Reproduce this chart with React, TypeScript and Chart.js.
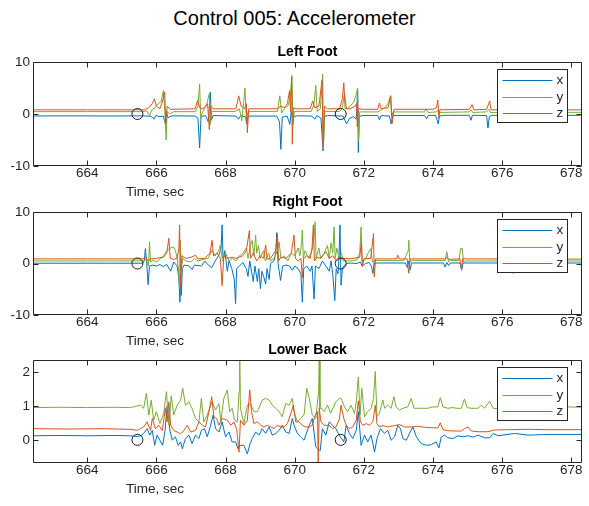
import { useEffect, useRef } from 'react';
import { Chart, registerables } from 'chart.js';

Chart.register(...registerables);

type Pt = [number, number];

const FIG_TITLE = 'Control 005: Accelerometer';
const X_LABEL = 'Time, sec';
const SERIES_NAMES = ['x', 'y', 'z'];
const SERIES_COLORS = ['#0072BD', '#77AC30', '#D95319'];
const AX = '#262626';
const FONT = '"Liberation Sans", Arial, Helvetica, sans-serif';

const X_MIN = 662.43;
const X_MAX = 678.31;
const xTicks = [664, 666, 668, 670, 672, 674, 676, 678];
const footYTicks = [-10, 0, 10];
const backYTicks = [0, 1, 2];
const eventTimes = [665.45, 671.33];
const eventValues = [0, 0];

// ---------- Left Foot ----------
const leftFootX: Pt[] = [
  [662.43, -0.38], [663.5, -0.36], [664.6, -0.38], [665.6, -0.36], [665.85, -0.45], [665.93, -1.0], [665.98, -0.3],
  [666.1, -0.5], [666.2, -0.4], [666.26, -1.9], [666.29, 0.5], [666.33, -0.7], [666.45, -0.35], [667.12, -0.4],
  [667.2, -0.8], [667.25, -6.5], [667.29, -0.5], [667.42, -0.3], [667.5, -1.5], [667.56, 4.2], [667.59, -1.2],
  [667.64, -0.3], [668.3, -0.4], [668.37, -1.0], [668.44, -0.3], [668.58, -0.6], [668.61, -1.9], [668.65, -0.4],
  [669.48, -0.4], [669.56, -1.5], [669.6, -6.8], [669.64, -0.6], [669.78, -0.4], [669.86, -2.0], [669.9, 0.5],
  [669.94, -0.6], [670.05, -0.35], [670.5, -0.4], [670.58, -1.0], [670.64, -0.3], [670.76, -0.8], [670.82, -7.1],
  [670.86, -0.5], [670.95, -0.3], [671.4, -0.4], [671.5, -1.9], [671.58, -0.9], [671.7, -0.5], [671.78, -1.0],
  [671.82, 4.6], [671.84, -7.4], [671.87, -0.5], [671.95, -0.3], [672.4, -0.3], [672.45, -1.1], [672.5, -0.3],
  [672.74, -0.4], [672.79, -1.9], [672.84, -0.3], [673.76, -0.3], [673.82, -0.9], [673.87, -0.25], [674.08, -0.3],
  [674.15, -1.9], [674.19, -0.4], [674.3, -0.25], [675.05, -0.25], [675.1, -1.2], [675.14, -0.25], [675.55, -0.3],
  [675.59, -2.7], [675.63, -0.5], [675.7, -0.25], [678.31, -0.25],
];
const leftFootY: Pt[] = [
  [662.43, 0.45], [664.0, 0.46], [665.6, 0.45], [665.72, 0.6], [665.8, -0.3], [665.88, 0.9], [665.96, 1.2],
  [666.05, 2.0], [666.14, 2.4], [666.2, 4.5], [666.24, 1.0], [666.28, -5.0], [666.31, 0.5], [666.38, 0.0],
  [666.5, 0.45], [667.12, 0.45], [667.2, 1.5], [667.25, 5.8], [667.28, -0.8], [667.34, 0.5], [667.44, 1.5],
  [667.53, 3.9], [667.56, -2.0], [667.6, 0.5], [668.28, 0.5], [668.4, 1.0], [668.47, -1.3], [668.52, 2.0],
  [668.56, 5.0], [668.6, -1.0], [668.65, 0.5], [669.5, 0.5], [669.57, 3.5], [669.62, 0.2], [669.7, 1.0],
  [669.8, 1.5], [669.87, 3.0], [669.92, 7.4], [669.95, -2.0], [669.99, 0.5], [670.48, 0.5], [670.56, 2.0],
  [670.61, 5.5], [670.65, 0.5], [670.74, 1.0], [670.81, 7.7], [670.83, -6.5], [670.87, 0.5], [671.3, 0.5],
  [671.38, 1.2], [671.44, 4.0], [671.5, 1.0], [671.6, 1.5], [671.7, 2.2], [671.77, 3.5], [671.82, 5.0],
  [671.845, -5.1], [671.88, 0.4], [672.0, 0.4], [672.4, 0.4], [672.5, 0.8], [672.6, 1.2], [672.7, 2.0],
  [672.77, 3.5], [672.8, -0.5], [672.85, 0.4], [673.75, 0.4], [673.8, 1.0], [673.86, 0.3], [674.1, 0.4],
  [674.15, 0.8], [674.2, 0.3], [675.05, 0.4], [675.1, 0.8], [675.15, 0.3], [675.55, 0.4], [675.62, 0.9],
  [675.66, 0.3], [678.31, 0.32],
];
const leftFootZ: Pt[] = [
  [662.43, 0.8], [664.0, 0.8], [665.65, 0.8], [665.78, 1.2], [665.88, 2.0], [665.94, 2.9], [666.0, 1.5],
  [666.1, 1.0], [666.18, 2.5], [666.24, 4.2], [666.27, -1.9], [666.31, 1.5], [666.4, 0.9], [667.12, 1.0],
  [667.19, 2.6], [667.25, 1.2], [667.35, 1.0], [667.48, 2.0], [667.53, -3.0], [667.57, 1.5], [667.64, 1.0],
  [668.3, 1.0], [668.38, 3.5], [668.45, 1.5], [668.55, 1.0], [668.6, 2.0], [668.63, -3.6], [668.67, 1.0],
  [669.5, 1.0], [669.6, 1.5], [669.7, 1.2], [669.79, 2.0], [669.85, 4.5], [669.88, 0.5], [669.91, 7.1],
  [669.93, -5.8], [669.96, 1.2], [670.05, 1.0], [670.45, 1.0], [670.52, 2.5], [670.58, 1.2], [670.7, 1.5],
  [670.79, 6.5], [670.82, -6.2], [670.86, 1.5], [670.95, 1.0], [671.3, 1.0], [671.38, 3.0], [671.42, 6.0],
  [671.46, 1.0], [671.6, 1.0], [671.75, 1.5], [671.79, 2.0], [671.81, -2.5], [671.84, 1.0], [672.0, 0.9],
  [672.4, 0.9], [672.45, 2.1], [672.5, 1.0], [672.7, 1.2], [672.78, 3.5], [672.82, -1.8], [672.87, 0.9],
  [673.75, 0.9], [674.0, 0.9], [674.1, 1.2], [674.14, 2.7], [674.17, -0.8], [674.2, 0.8], [675.05, 0.9],
  [675.13, 1.8], [675.18, 0.8], [675.55, 0.9], [675.64, 2.5], [675.68, 0.8], [678.31, 0.8],
];

// ---------- Right Foot ----------
const rightFootX: Pt[] = [
  [662.43, 0.05], [664.0, 0.06], [665.6, 0.05], [665.65, 0.5], [665.68, 2.9], [665.72, 0.0], [665.76, -4.1],
  [665.8, -0.5], [665.9, -0.3], [666.0, -0.5], [666.1, -0.2], [666.2, -0.6], [666.3, -0.2], [666.41, -1.5],
  [666.5, 0.3], [666.6, -0.5], [666.65, -3.0], [666.68, -7.5], [666.7, -2.0], [666.72, -6.2], [666.75, -1.0],
  [666.8, -0.3], [666.95, -0.5], [667.03, -1.2], [667.1, -0.3], [667.3, -0.5], [667.4, 0.5], [667.5, -0.3],
  [667.6, -0.8], [667.7, 0.5], [667.8, 1.5], [667.87, 3.0], [667.9, 7.5], [667.93, 0.5], [667.98, 2.5],
  [668.05, -1.5], [668.1, 0.5], [668.18, -1.0], [668.25, -3.0], [668.29, -7.8], [668.32, -1.0], [668.4, -0.5],
  [668.5, 0.2], [668.6, -1.0], [668.65, -2.5], [668.7, 0.5], [668.75, -1.5], [668.8, -3.5], [668.85, -0.5],
  [668.92, -3.5], [668.96, -1.0], [669.01, -4.9], [669.05, -1.5], [669.1, -2.5], [669.16, -4.0], [669.2, -1.0],
  [669.26, -3.1], [669.3, 0.0], [669.4, 0.5], [669.45, 2.0], [669.48, 6.0], [669.52, 0.0], [669.59, -3.3],
  [669.65, -0.5], [669.75, -0.3], [669.85, -0.5], [669.93, -1.3], [670.0, -0.5], [670.1, -1.0], [670.18, -2.0],
  [670.22, -7.5], [670.26, -1.0], [670.35, -0.5], [670.45, -1.5], [670.5, -0.5], [670.56, -6.9], [670.6, -0.5],
  [670.7, -1.0], [670.8, 0.5], [670.9, -0.5], [671.0, -1.5], [671.05, 0.5], [671.1, -2.0], [671.16, -7.2],
  [671.2, -1.0], [671.25, -2.0], [671.28, 1.0], [671.31, 7.5], [671.34, -4.2], [671.38, -1.0], [671.42, -0.5],
  [671.5, 0.0], [671.6, 0.1], [671.8, 0.0], [671.9, 0.3], [671.95, -0.5], [672.05, 0.0], [672.15, 0.2],
  [672.22, -0.5], [672.26, -1.9], [672.3, 0.0], [672.4, 0.1], [673.2, 0.1], [673.26, -0.8], [673.3, 0.5],
  [673.34, -1.2], [673.38, 0.1], [674.3, 0.1], [674.35, -0.7], [674.4, 0.2], [674.45, -0.4], [674.5, 0.1],
  [674.78, 0.1], [674.83, -1.3], [674.87, 0.1], [676.28, 0.1], [676.32, -1.9], [676.36, 0.1], [678.31, 0.1],
];
const rightFootY: Pt[] = [
  [662.43, 0.5], [664.0, 0.5], [665.6, 0.5], [665.7, 0.8], [665.77, -0.5], [665.8, 4.2], [665.83, 0.3],
  [665.9, 0.6], [666.0, 0.3], [666.1, 0.8], [666.2, 1.5], [666.3, 2.5], [666.4, 3.0], [666.5, 3.2], [666.55, 2.5],
  [666.6, 1.0], [666.65, -2.0], [666.67, -4.9], [666.69, 4.5], [666.72, -1.0], [666.76, 1.0], [666.85, 0.5],
  [667.0, 0.3], [667.1, 1.0], [667.2, 0.5], [667.35, 0.8], [667.5, 1.0], [667.6, 2.5], [667.7, 1.5], [667.8, 2.5],
  [667.85, 3.6], [667.9, 1.0], [668.0, 2.0], [668.1, 0.5], [668.2, 1.0], [668.3, 0.5], [668.4, 1.5], [668.5, 2.0],
  [668.6, 3.0], [668.65, 1.0], [668.72, 3.5], [668.77, 4.5], [668.82, 1.5], [668.87, 5.5], [668.9, 2.0],
  [668.95, 3.5], [669.0, 1.0], [669.1, 2.5], [669.15, 0.5], [669.25, 2.0], [669.3, 0.5], [669.4, 1.0],
  [669.5, 2.5], [669.55, 4.2], [669.6, 1.0], [669.7, 1.5], [669.8, 0.5], [669.9, 2.0], [670.0, 1.5], [670.1, 3.0],
  [670.15, 1.5], [670.2, 4.0], [670.22, 6.5], [670.25, 1.0], [670.3, 2.5], [670.4, 1.0], [670.5, 2.5],
  [670.56, 5.0], [670.59, 8.1], [670.62, 1.0], [670.7, 3.0], [670.75, 1.0], [670.85, 2.0], [670.95, 3.5],
  [671.0, 1.0], [671.05, 4.0], [671.1, 2.0], [671.14, 7.1], [671.17, 1.0], [671.22, 3.0], [671.28, 1.0],
  [671.35, 2.0], [671.4, 0.5], [671.6, 0.5], [671.8, 0.7], [671.88, 2.0], [671.92, 7.1], [671.95, 0.3],
  [672.05, 0.8], [672.12, 2.0], [672.2, 2.9], [672.25, 0.3], [672.35, 0.6], [673.15, 0.6], [673.22, 1.5],
  [673.28, 2.5], [673.3, 4.5], [673.33, 0.3], [673.4, 0.6], [674.35, 0.6], [674.4, 2.3], [674.45, 0.3],
  [674.5, 0.6], [674.75, 0.6], [674.8, 2.9], [674.85, 2.9], [674.88, 0.3], [674.95, 0.5], [678.31, 0.5],
];
const rightFootZ: Pt[] = [
  [662.43, 0.9], [664.0, 0.9], [665.6, 0.9], [665.7, 1.2], [665.75, 0.5], [665.85, 0.9], [666.0, 1.0],
  [666.2, 1.2], [666.3, 2.0], [666.36, 4.9], [666.4, 1.0], [666.5, 0.8], [666.6, 1.0], [666.65, 3.0],
  [666.67, 7.5], [666.7, -4.2], [666.74, 1.5], [666.85, 1.0], [667.0, 1.2], [667.13, 1.6], [667.2, 0.9],
  [667.4, 1.0], [667.55, 2.0], [667.61, 4.5], [667.65, 1.5], [667.75, 2.0], [667.85, 1.0], [667.9, -4.3],
  [667.95, 1.5], [668.05, 1.0], [668.2, 1.2], [668.3, 1.0], [668.5, 1.5], [668.6, 2.5], [668.69, 6.4],
  [668.72, 1.0], [668.8, 2.0], [668.9, 0.5], [669.0, 1.5], [669.1, 1.0], [669.16, 3.6], [669.2, 0.8],
  [669.3, 1.0], [669.45, 2.5], [669.5, 5.8], [669.53, 0.5], [669.6, 1.2], [669.75, 1.0], [669.9, 2.0],
  [669.98, 5.5], [670.02, 1.0], [670.1, 0.5], [670.18, 1.0], [670.22, -2.8], [670.26, 1.0], [670.35, 1.5],
  [670.45, 1.0], [670.5, 3.0], [670.54, 7.5], [670.57, 0.5], [670.65, 1.2], [670.75, 1.0], [670.9, 2.3],
  [671.0, 1.0], [671.1, 1.5], [671.2, 0.5], [671.3, 1.0], [671.4, 1.0], [671.6, 0.9], [671.88, 1.2],
  [671.93, 4.2], [671.96, -0.6], [672.0, 0.9], [672.2, 1.0], [672.28, 5.8], [672.3, -2.6], [672.34, 0.9],
  [672.95, 0.9], [672.98, 1.6], [673.02, 0.9], [673.25, 0.9], [673.3, -1.9], [673.34, 0.9], [674.35, 0.9],
  [674.4, 1.3], [674.45, 0.8], [674.78, 0.9], [674.82, -1.0], [674.86, 0.9], [678.31, 0.85],
];

// ---------- Lower Back ----------
const lowBackX: Pt[] = [
  [662.43, 0.12], [663.2, 0.13], [664.0, 0.12], [664.8, 0.13], [665.25, 0.12], [665.45, 0.1], [665.54, 0.12],
  [665.63, 0.19], [665.73, 0.33], [665.81, 0.14], [665.88, 0.28], [665.95, -0.16], [666.02, 0.14], [666.1, -0.01],
  [666.18, -0.16], [666.25, 0.28], [666.31, 1.0], [666.39, 0.28], [666.46, -0.01], [666.55, 0.09], [666.63, -0.16],
  [666.7, -0.06], [666.75, -0.26], [666.84, 0.04], [666.94, 0.14], [667.03, -0.11], [667.13, 0.14], [667.23, 0.04],
  [667.3, 0.28], [667.39, 0.33], [667.47, 0.09], [667.57, 0.43], [667.64, 0.73], [667.71, 0.33], [667.81, 0.23],
  [667.9, 0.53], [668.0, 0.09], [668.1, 0.23], [668.19, -0.06], [668.29, -0.06], [668.36, -0.26], [668.43, -0.16],
  [668.53, -0.16], [668.63, -0.41], [668.71, -0.11], [668.77, 0.04], [668.87, 0.23], [668.97, 0.14], [669.06, 0.33],
  [669.16, 0.19], [669.26, 0.38], [669.35, 0.14], [669.45, 0.19], [669.55, 0.28], [669.64, 0.43], [669.74, 0.23],
  [669.84, 0.19], [669.93, 0.63], [669.98, 0.43], [670.08, 0.19], [670.17, 0.09], [670.27, -0.01], [670.35, 0.23],
  [670.42, 0.43], [670.51, 0.63], [670.61, -0.21], [670.66, -0.26], [670.74, -0.31], [670.8, 0.33], [670.9, 0.14],
  [671.0, 0.53], [671.09, 0.43], [671.19, 0.33], [671.29, 0.13], [671.42, -0.06], [671.49, 0.43], [671.58, 0.19],
  [671.68, 0.04], [671.78, 0.28], [671.84, 0.83], [671.92, -0.16], [672.02, 0.14], [672.11, -0.06], [672.21, 0.14],
  [672.31, -0.36], [672.38, 0.04], [672.48, 0.33], [672.6, 0.19], [672.69, 0.28], [672.79, -0.01], [672.89, 0.09],
  [672.98, 0.43], [673.06, 0.33], [673.13, 0.04], [673.23, -0.01], [673.32, 0.19], [673.42, 0.38], [673.52, 0.09],
  [673.66, -0.11], [673.81, -0.16], [673.95, -0.14], [674.09, -0.06], [674.17, -0.24], [674.24, 0.09], [674.34, 0.14],
  [674.43, 0.06], [674.58, 0.04], [674.72, 0.12], [674.87, 0.09], [675.01, 0.12], [675.16, 0.08], [675.3, 0.14],
  [675.5, 0.06], [675.64, 0.06], [675.74, 0.19], [675.88, 0.12], [676.36, 0.19], [676.75, 0.14], [677.33, 0.16],
  [678.31, 0.16],
];
const lowBackY: Pt[] = [
  [662.43, 0.95], [663.2, 0.96], [664.0, 0.95], [664.8, 0.96], [665.25, 0.95], [665.54, 1.02], [665.63, 0.93],
  [665.71, 1.37], [665.78, 0.73], [665.85, 1.17], [665.92, 0.58], [666.0, 0.83], [666.1, 0.48], [666.21, 0.78],
  [666.29, 1.42], [666.36, 0.43], [666.43, 1.3], [666.5, 0.73], [666.6, 1.02], [666.7, 1.17], [666.76, 1.52],
  [666.84, 1.02], [666.94, 1.12], [667.03, 0.93], [667.13, 0.63], [667.23, 0.53], [667.3, 1.22], [667.37, 0.53],
  [667.47, 0.73], [667.61, 1.12], [667.71, 0.88], [667.81, 1.07], [667.86, 0.53], [667.95, 1.22], [668.05, 1.47],
  [668.12, 0.83], [668.19, 0.93], [668.26, 0.58], [668.34, 0.53], [668.39, 1.42], [668.41, 2.36], [668.43, 0.93],
  [668.53, 0.48], [668.63, 1.02], [668.72, 1.07], [668.82, 0.83], [668.92, 0.83], [669.06, 1.17], [669.16, 1.22],
  [669.26, 1.17], [669.35, 1.02], [669.45, 0.93], [669.55, 0.83], [669.64, 0.68], [669.74, 1.07], [669.84, 1.02],
  [669.93, 1.22], [669.98, 0.83], [670.08, 0.53], [670.17, 0.63], [670.27, 0.73], [670.35, 1.52], [670.42, 1.22],
  [670.51, 0.73], [670.61, 0.63], [670.69, 1.42], [670.71, 2.4], [670.73, 0.93], [670.77, 0.93], [670.85, 0.83],
  [670.95, 1.02], [671.04, 0.78], [671.19, 1.12], [671.29, 1.22], [671.34, 1.22], [671.44, 0.97], [671.53, 0.83],
  [671.63, 1.02], [671.73, 0.78], [671.78, 1.12], [671.84, 1.85], [671.89, 0.73], [671.94, 1.52], [672.02, 0.68],
  [672.11, 0.83], [672.21, 0.93], [672.28, 1.22], [672.33, 2.01], [672.38, 0.68], [672.45, 0.78], [672.55, 1.17],
  [672.6, 0.93], [672.69, 1.02], [672.79, 0.93], [672.87, 1.27], [672.93, 0.97], [673.03, 0.88], [673.13, 0.93],
  [673.27, 0.97], [673.37, 1.22], [673.45, 0.93], [673.56, 0.93], [673.71, 0.93], [673.85, 0.93], [674.0, 0.97],
  [674.14, 0.97], [674.21, 1.24], [674.29, 0.97], [674.43, 0.93], [674.58, 0.95], [674.67, 0.93], [674.82, 0.93],
  [674.91, 1.2], [674.99, 0.95], [675.11, 0.93], [675.3, 0.93], [675.4, 1.02], [675.49, 0.93], [675.64, 1.14],
  [675.74, 0.93], [675.88, 0.91], [676.17, 0.93], [676.56, 0.93], [676.94, 0.93], [677.33, 0.95], [677.91, 0.97],
  [678.31, 0.96],
];
const lowBackZ: Pt[] = [
  [662.43, 0.33], [663.5, 0.32], [664.5, 0.33], [665.25, 0.31], [665.45, 0.28], [665.54, 0.33], [665.63, 0.38],
  [665.73, 0.53], [665.83, 0.28], [665.88, 0.63], [665.97, 0.33], [666.07, 0.43], [666.17, 0.28], [666.26, 0.93],
  [666.31, 0.53], [666.36, 1.12], [666.41, 0.43], [666.5, 0.28], [666.6, 0.23], [666.7, 0.18], [666.8, 0.28],
  [666.89, 0.43], [666.99, 0.23], [667.13, 0.28], [667.23, 0.53], [667.33, 0.43], [667.42, 0.38], [667.52, 0.83],
  [667.6, 1.27], [667.66, 0.68], [667.74, 0.63], [667.81, 0.43], [667.9, 0.63], [668.05, 0.58], [668.15, 0.43],
  [668.24, 0.53], [668.32, 0.33], [668.39, -0.36], [668.43, 0.58], [668.53, 0.43], [668.63, 0.58], [668.7, 1.47],
  [668.75, 0.83], [668.82, 0.48], [668.92, 0.53], [669.02, 0.43], [669.11, 0.38], [669.21, 0.43], [669.31, 0.38],
  [669.4, 0.33], [669.5, 0.43], [669.6, 0.38], [669.69, 0.38], [669.79, 0.48], [669.89, 0.78], [669.96, 1.02],
  [670.03, 0.53], [670.13, 0.53], [670.22, 0.43], [670.32, 0.38], [670.42, 0.38], [670.51, 0.43], [670.61, 0.78],
  [670.66, 0.83], [670.68, -0.7], [670.71, 0.93], [670.76, 0.53], [670.85, 0.43], [671.0, 0.43], [671.09, 0.33],
  [671.19, 0.38], [671.29, 0.6], [671.34, 1.02], [671.42, 0.63], [671.49, 0.43], [671.58, 0.33], [671.68, 0.38],
  [671.78, 0.58], [671.84, 1.15], [671.9, 0.53], [671.97, 0.43], [672.07, 0.48], [672.16, 0.43], [672.26, 0.53],
  [672.33, 1.02], [672.38, 0.48], [672.45, 0.38], [672.55, 0.42], [672.69, 0.38], [672.89, 0.42], [673.03, 0.45],
  [673.18, 0.38], [673.37, 0.38], [673.56, 0.4], [673.76, 0.37], [673.95, 0.36], [674.14, 0.35], [674.21, 0.5],
  [674.29, 0.3], [674.43, 0.27], [674.63, 0.26], [674.82, 0.26], [674.91, 0.33], [675.01, 0.38], [675.11, 0.26],
  [675.3, 0.24], [675.59, 0.24], [675.78, 0.29], [676.17, 0.3], [676.75, 0.31], [677.33, 0.3], [678.31, 0.3],
];

interface Panel {
  title: string;
  series: Pt[][];
  yMin: number;
  yMax: number;
  yTicks: number[];
  top: number;
  bottom: number;
}

const panels: Panel[] = [
  { title: 'Left Foot', series: [leftFootX, leftFootY, leftFootZ], yMin: -10, yMax: 10, yTicks: footYTicks, top: 62, bottom: 166 },
  { title: 'Right Foot', series: [rightFootX, rightFootY, rightFootZ], yMin: -10, yMax: 10, yTicks: footYTicks, top: 212, bottom: 315 },
  { title: 'Lower Back', series: [lowBackX, lowBackY, lowBackZ], yMin: -0.68, yMax: 2.35, yTicks: backYTicks, top: 360, bottom: 463 },
];

const W = 589;
const H = 506;
const X_AXIS_H = 20;
const Y_AXIS_W = 33;
const RIGHT_PAD = 7;

function framePlugin(p: Panel) {
  return {
    id: 'matlabFrame',
    afterDatasetsDraw(chart: any) {
      const { ctx, chartArea: a } = chart;
      const xs = chart.scales.x;
      const ys = chart.scales.y;
      ctx.save();
      ctx.strokeStyle = AX;
      ctx.lineWidth = 1;
      const L = Math.round(a.left) + 0.5;
      const R = Math.round(a.right) - 0.5;
      const T = Math.round(a.top) + 0.5;
      const B = Math.round(a.bottom) - 0.5;
      ctx.beginPath();
      ctx.rect(L, T, R - L, B - T);
      for (const v of xTicks) {
        const px = Math.round(xs.getPixelForValue(v)) + 0.5;
        ctx.moveTo(px, B); ctx.lineTo(px, B - 5);
        ctx.moveTo(px, T); ctx.lineTo(px, T + 5);
      }
      for (const v of p.yTicks) {
        const py = Math.round(ys.getPixelForValue(v)) + 0.5;
        ctx.moveTo(L, py); ctx.lineTo(L + 5, py);
        ctx.moveTo(R, py); ctx.lineTo(R - 5, py);
      }
      ctx.stroke();

      // legend box
      const lx = Math.round(a.right - 85) + 0.5;
      const ly = Math.round(a.top + 7) + 0.5;
      const lw = 70;
      const lh = 53;
      ctx.fillStyle = '#ffffff';
      ctx.fillRect(lx, ly, lw, lh);
      ctx.strokeStyle = AX;
      ctx.strokeRect(lx, ly, lw, lh);
      ctx.font = `13.5px ${FONT}`;
      ctx.textAlign = 'left';
      ctx.textBaseline = 'middle';
      SERIES_NAMES.forEach((name, i) => {
        const yy = Math.round(ly + 10.5 + i * 16.7) + 0.5;
        ctx.strokeStyle = SERIES_COLORS[i];
        ctx.beginPath();
        ctx.moveTo(lx + 5, yy);
        ctx.lineTo(lx + 55, yy);
        ctx.stroke();
        ctx.fillStyle = AX;
        ctx.fillText(name, lx + 59, yy);
      });

      // subplot title
      ctx.fillStyle = '#000000';
      ctx.textAlign = 'center';
      ctx.font = `bold 14px ${FONT}`;
      ctx.fillText(p.title, (a.left + a.right) / 2, a.top - 10);

      // x label
      ctx.fillStyle = AX;
      ctx.font = `13.5px ${FONT}`;
      ctx.fillText(X_LABEL, a.left + 122, a.bottom + 26);
      ctx.restore();
    },
  };
}

function buildConfig(p: Panel): any {
  const toPts = (pts: Pt[]) => pts.map(([x, y]) => ({ x, y }));
  return {
    type: 'line',
    data: {
      datasets: [
        ...p.series.map((s, i) => ({
          label: SERIES_NAMES[i],
          data: toPts(s),
          borderColor: SERIES_COLORS[i],
          backgroundColor: SERIES_COLORS[i],
          borderWidth: 1,
          pointRadius: 0,
          fill: false,
          tension: 0,
          order: 3 - i,
        })),
        {
          label: 'events',
          data: eventTimes.map((t, i) => ({ x: t, y: eventValues[i] })),
          showLine: false,
          pointRadius: 5.5,
          pointBorderWidth: 1,
          pointBorderColor: '#1a1a1a',
          pointBackgroundColor: 'rgba(0,0,0,0)',
          borderColor: '#1a1a1a',
          order: 0,
        },
      ],
    },
    options: {
      animation: false,
      responsive: false,
      maintainAspectRatio: false,
      devicePixelRatio: 1,
      events: [],
      layout: { padding: { left: 0, right: RIGHT_PAD, top: p.top, bottom: H - p.bottom - X_AXIS_H } },
      plugins: { legend: { display: false }, tooltip: { enabled: false }, title: { display: false } },
      scales: {
        x: {
          type: 'linear',
          position: 'bottom',
          min: X_MIN,
          max: X_MAX,
          grid: { display: false, drawTicks: false },
          border: { display: false },
          afterBuildTicks: (s: any) => { s.ticks = xTicks.map((v) => ({ value: v })); },
          afterFit: (s: any) => { s.height = X_AXIS_H; },
          ticks: {
            color: AX,
            font: { family: FONT, size: 13.5 },
            padding: -0.5,
            maxRotation: 0,
            autoSkip: false,
            callback: (v: any) => String(v),
          },
        },
        y: {
          type: 'linear',
          position: 'left',
          min: p.yMin,
          max: p.yMax,
          grid: { display: false, drawTicks: false },
          border: { display: false },
          afterBuildTicks: (s: any) => { s.ticks = p.yTicks.map((v) => ({ value: v })); },
          afterFit: (s: any) => { s.width = Y_AXIS_W; },
          ticks: {
            color: AX,
            font: { family: FONT, size: 13.5 },
            padding: 3,
            autoSkip: false,
            callback: (v: any) => String(v),
          },
        },
      },
    },
    plugins: [framePlugin(p)],
  };
}

function PanelChart({ panel }: { panel: Panel }) {
  const ref = useRef<HTMLCanvasElement>(null);
  useEffect(() => {
    if (!ref.current) return;
    const chart = new Chart(ref.current, buildConfig(panel));
    return () => chart.destroy();
  }, [panel]);
  return (
    <canvas
      ref={ref}
      width={W}
      height={H}
      style={{ position: 'absolute', left: 0, top: 0, width: W, height: H }}
    />
  );
}

export default function App() {
  return (
    <div style={{ position: 'absolute', left: 0, top: 0, width: W, height: H, background: '#ffffff', overflow: 'hidden' }}>
      <div
        style={{
          position: 'absolute', left: 0, top: 6, width: W, textAlign: 'center',
          fontFamily: FONT, fontSize: 20, lineHeight: '24px', color: '#000000',
        }}
      >
        {FIG_TITLE}
      </div>
      {panels.map((p) => (
        <PanelChart key={p.title} panel={p} />
      ))}
    </div>
  );
}
